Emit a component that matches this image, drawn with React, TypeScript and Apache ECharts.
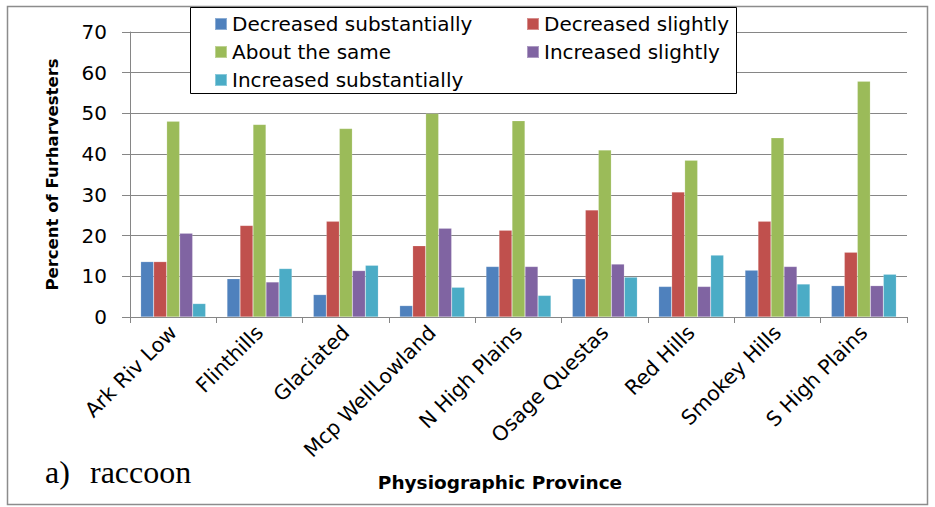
import React, { useEffect, useRef } from "react";
import * as echarts from "echarts";

const categories = [
  "Ark Riv Low",
  "Flinthills",
  "Glaciated",
  "Mcp WellLowland",
  "N High Plains",
  "Osage Questas",
  "Red Hills",
  "Smokey Hills",
  "S High Plains",
];

const seriesNames = [
  "Decreased substantially",
  "Decreased slightly",
  "About the same",
  "Increased slightly",
  "Increased substantially",
];

const decreasedSubstantially = [13.6, 9.4, 5.5, 2.8, 12.4, 9.4, 7.5, 11.5, 7.7];
const decreasedSlightly = [13.6, 22.5, 23.5, 17.5, 21.3, 26.3, 30.7, 23.5, 15.9];
const aboutTheSame = [48.1, 47.3, 46.3, 50.0, 48.2, 41.0, 38.5, 44.0, 57.9];
const increasedSlightly = [20.6, 8.6, 11.4, 21.8, 12.4, 13.0, 7.5, 12.4, 7.7];
const increasedSubstantially = [3.3, 11.9, 12.7, 7.3, 5.3, 9.8, 15.2, 8.1, 10.5];

const seriesValues = [
  decreasedSubstantially,
  decreasedSlightly,
  aboutTheSame,
  increasedSlightly,
  increasedSubstantially,
];

const colors = ["#4F81BD", "#C0504D", "#9BBB59", "#8064A2", "#4BACC6"];

const FONT = "DejaVu Sans";

export default function App() {
  const ref = useRef<HTMLDivElement>(null);

  useEffect(() => {
    if (!ref.current) return;
    const chart = echarts.init(ref.current, undefined, { renderer: "svg" });
    const legendText = {
      fontFamily: FONT,
      fontSize: 20,
      lineHeight: 20,
      color: "#000",
    };
    const legendCommon = {
      orient: "vertical",
      top: 9,
      itemWidth: 12,
      itemHeight: 12,
      itemGap: 8,
      icon: "rect",
      textStyle: legendText,
      z: 10,
    };
    chart.setOption({
      animation: false,
      backgroundColor: "#fff",
      textStyle: { fontFamily: FONT },
      grid: { left: 130, right: 28, top: 32, bottom: 190, containLabel: false },
      legend: [
        {
          ...legendCommon,
          left: 209,
          data: [seriesNames[0], seriesNames[2], seriesNames[4]],
        },
        {
          ...legendCommon,
          left: 521,
          data: [seriesNames[1], seriesNames[3]],
        },
      ],
      xAxis: {
        type: "category",
        data: categories,
        boundaryGap: true,
        axisLine: { show: true, lineStyle: { color: "#868686", width: 1 } },
        axisTick: { show: true, length: 6, lineStyle: { color: "#868686" } },
        axisLabel: {
          rotate: 45,
          interval: 0,
          margin: 12,
          fontFamily: FONT,
          fontSize: 20.5,
          color: "#000",
        },
      },
      yAxis: {
        type: "value",
        min: 0,
        max: 70,
        interval: 10,
        axisLine: { show: true, lineStyle: { color: "#868686", width: 1 } },
        axisTick: { show: true, length: 8, lineStyle: { color: "#868686" } },
        splitLine: { show: true, lineStyle: { color: "#868686", width: 1 } },
        axisLabel: {
          fontFamily: FONT,
          fontSize: 20,
          color: "#000",
          margin: 23,
        },
        name: "Percent of Furharvesters",
        nameLocation: "middle",
        nameGap: 69,
        nameTextStyle: {
          fontFamily: FONT,
          fontSize: 16.5,
          fontWeight: "bold",
          color: "#000",
        },
      },
      graphic: [
        {
          type: "rect",
          shape: { x: 7.5, y: 6.5, width: 920, height: 498 },
          style: { fill: "none", stroke: "#8c8c8c", lineWidth: 1.5 },
          z: 0,
          silent: true,
        },
        {
          type: "rect",
          shape: { x: 190.5, y: 7.5, width: 546, height: 86 },
          style: { fill: "#fff", stroke: "#000", lineWidth: 1 },
          z: 5,
          silent: true,
        },
        {
          type: "text",
          x: 500,
          y: 482,
          style: {
            text: "Physiographic Province",
            fontFamily: FONT,
            fontSize: 18.5,
            fontWeight: "bold",
            fill: "#000",
            align: "center",
            verticalAlign: "middle",
          },
          z: 10,
        },
        {
          type: "text",
          x: 45,
          y: 472,
          style: {
            text: "a)",
            fontFamily: "Liberation Serif",
            fontSize: 32,
            fill: "#000",
            verticalAlign: "middle",
          },
          z: 10,
        },
        {
          type: "text",
          x: 90,
          y: 472,
          style: {
            text: "raccoon",
            fontFamily: "Liberation Serif",
            fontSize: 32,
            fill: "#000",
            verticalAlign: "middle",
          },
          z: 10,
        },
      ],
      series: seriesNames.map((name, i) => ({
        name,
        type: "bar",
        data: seriesValues[i],
        barWidth: 13,
        barGap: "0%",
        itemStyle: { color: colors[i], borderColor: "rgba(255,255,255,0.35)", borderWidth: 0.5 },
        z: 2,
      })),
    });
    return () => chart.dispose();
  }, []);

  return (
    <div
      ref={ref}
      style={{ position: "absolute", left: 0, top: 0, width: 935, height: 507 }}
    />
  );
}
